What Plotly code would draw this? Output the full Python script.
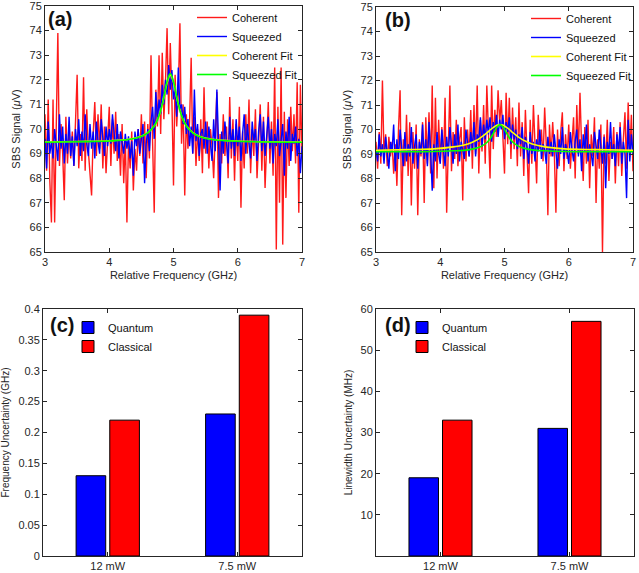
import numpy as np
import plotly.graph_objects as go

# ---------------- data ----------------
freq = np.round(3 + 0.025 * np.arange(161), 3)

coh_a = [70.6, 68.3, 71.2, 67.9, 66.2, 71.2, 66.2, 70.4, 73.9, 68.5,
         70.2, 69.0, 67.1, 70.5, 68.6, 70.0, 68.8, 69.9, 68.5, 70.3,
         72.2, 68.4, 69.8, 68.7, 72.1, 68.3, 70.8, 69.1, 68.0, 67.3,
         69.8, 71.1, 68.9, 70.6, 69.2, 71.0, 68.4, 70.1, 68.2, 69.6,
         70.9, 68.5, 70.4, 69.0, 70.7, 68.7, 69.8, 68.1, 70.2, 67.8,
         69.6, 66.2, 69.5, 68.4, 69.9, 67.5, 69.2, 68.3, 70.0, 68.9,
         70.6, 68.6, 70.3, 68.0, 70.2, 68.8, 73.0, 69.4, 66.6, 71.6,
         70.1, 73.0, 69.8, 73.1, 70.4, 71.9, 74.1, 70.6, 73.5, 71.2,
         67.7, 72.2, 70.1, 71.5, 74.3, 69.4, 71.0, 67.3, 70.6, 69.2,
         70.3, 72.9, 69.0, 70.5, 68.5, 70.0, 68.7, 70.4, 68.2, 71.7,
         69.0, 70.3, 68.4, 70.0, 69.3, 68.0, 70.2, 71.5, 67.2, 69.8,
         68.6, 70.6, 68.9, 70.1, 68.0, 71.3, 68.8, 70.4, 67.9, 70.2,
         68.7, 70.9, 66.8, 69.9, 68.4, 70.6, 69.0, 71.2, 68.2, 70.0,
         68.9, 70.8, 68.0, 69.7, 71.0, 68.3, 70.5, 67.6, 69.8, 71.1,
         68.6, 70.3, 68.1, 72.5, 65.1, 70.9, 67.0, 72.5, 65.3, 70.7,
         67.2, 70.4, 68.5, 70.9, 69.1, 70.6, 68.6, 71.9, 66.6, 71.8, 69.0]

sq_a = [69.6, 68.4, 70.3, 69.0, 69.5, 68.8, 70.0, 69.3, 68.7, 70.6,
        69.2, 70.1, 68.6, 69.8, 69.0, 70.5, 68.9, 69.7, 68.5, 70.0,
        69.3, 70.4, 68.9, 69.9, 69.1, 70.6, 69.4, 68.9, 70.2, 69.2,
        69.9, 68.8, 70.3, 69.5, 69.0, 70.4, 69.6, 68.9, 70.1, 69.3,
        70.0, 69.4, 70.6, 69.7, 69.1, 70.2, 68.8, 69.9, 69.5, 69.0,
        69.8, 69.2, 69.7, 68.8, 69.5, 68.1, 69.9, 69.3, 70.0, 69.0,
        69.6, 70.2, 67.8, 69.4, 70.0, 69.1, 70.3, 70.9, 69.6, 71.5,
        70.3, 71.2, 70.6, 71.8, 71.0, 72.0, 71.4, 72.6, 71.6, 72.4,
        71.2, 71.7, 70.5, 72.5, 70.8, 71.0, 70.2, 70.9, 69.8, 70.4,
        69.3, 70.1, 69.0, 71.6, 69.5, 70.2, 68.9, 69.8, 70.0, 69.2,
        70.3, 69.0, 70.1, 69.5, 68.7, 70.4, 69.1, 71.6, 69.3, 67.5,
        69.9, 69.0, 70.3, 69.4, 68.6, 70.5, 69.2, 70.0, 68.9, 70.4,
        69.3, 70.1, 68.7, 69.8, 70.6, 69.0, 70.2, 69.4, 68.8, 70.3,
        69.5, 70.0, 68.7, 69.9, 70.6, 69.1, 70.3, 68.9, 69.7, 70.5,
        69.2, 70.0, 68.6, 69.8, 69.3, 70.4, 68.9, 69.6, 70.2, 68.1,
        69.9, 69.2, 70.5, 68.7, 69.8, 69.4, 70.1, 68.9, 69.6, 68.2, 69.3]

coh_b = [69.5, 68.4, 69.9, 68.6, 72.0, 68.9, 69.8, 68.5, 69.7, 68.9,
         69.5, 68.2, 69.4, 67.7, 70.0, 71.6, 66.5, 69.6, 68.5, 70.6,
         68.1, 70.3, 66.9, 69.9, 68.4, 70.2, 66.5, 69.6, 68.9, 70.3,
         67.0, 70.5, 68.6, 70.7, 68.2, 71.8, 67.6, 71.3, 68.0, 70.4,
         68.7, 70.1, 68.4, 71.3, 66.6, 69.8, 71.8, 68.3, 69.9, 68.8,
         70.4, 68.5, 69.6, 70.1, 67.1, 70.5, 68.7, 70.0, 68.9, 70.8,
         68.4, 71.0, 69.0, 71.8, 68.2, 70.4, 69.1, 71.0, 68.6, 71.8,
         69.5, 68.0, 71.8, 69.2, 70.8, 69.7, 71.6, 70.3, 71.2, 69.6,
         68.2, 71.5, 69.4, 71.3, 68.8, 70.9, 69.2, 70.5, 68.5, 71.1,
         68.9, 70.3, 68.1, 70.8, 69.0, 67.4, 70.4, 68.6, 71.0, 69.3,
         67.8, 70.6, 69.2, 70.0, 68.7, 70.9, 69.4, 66.5, 70.2, 68.9,
         70.3, 69.1, 66.6, 70.0, 68.5, 69.9, 70.7, 68.3, 69.8, 68.8,
         70.2, 68.4, 69.7, 70.5, 68.0, 71.0, 69.0, 71.5, 69.3, 67.9,
         70.1, 68.6, 70.4, 67.6, 69.8, 68.9, 70.5, 67.0, 69.6, 68.4,
         70.2, 65.0, 69.8, 68.6, 70.4, 67.9, 69.5, 68.8, 70.1, 67.8,
         69.9, 68.5, 70.3, 68.1, 69.6, 70.7, 68.4, 71.1, 68.9, 70.6, 68.3]

sq_b = [69.2, 68.7, 69.8, 68.9, 69.4, 68.6, 69.7, 69.0, 68.4, 69.5,
        69.1, 70.2, 68.3, 69.6, 68.8, 70.0, 69.2, 68.5, 69.9, 68.7,
        69.4, 68.9, 70.1, 68.6, 69.3, 69.8, 68.4, 69.5, 69.0, 70.2,
        68.8, 69.6, 68.5, 70.3, 69.1, 67.5, 69.4, 68.7, 69.9, 69.0,
        68.6, 70.0, 69.2, 68.5, 69.7, 68.9, 70.1, 69.3, 68.6, 69.8,
        69.0, 70.2, 68.7, 69.5, 69.1, 68.8, 70.0, 69.4, 68.9, 69.9,
        69.2, 70.3, 68.9, 69.8, 69.5, 70.5, 69.3, 70.2, 69.6, 70.4,
        69.8, 70.5, 69.5, 70.3, 69.9, 70.6, 69.7, 70.4, 70.0, 70.6,
        69.6, 70.3, 69.9, 70.5, 69.4, 70.2, 69.6, 70.0, 69.2, 69.8,
        69.4, 70.1, 68.8, 69.7, 69.3, 68.6, 69.9, 69.0, 69.5, 68.7,
        69.6, 69.1, 70.0, 68.8, 69.4, 69.2, 68.6, 69.7, 69.0, 69.5,
        68.9, 69.8, 69.1, 68.4, 69.6, 69.0, 70.1, 68.8, 69.4, 69.1,
        68.6, 69.9, 69.2, 68.7, 69.5, 70.0, 68.9, 69.6, 68.3, 69.8,
        69.1, 70.2, 68.7, 69.4, 69.0, 68.5, 69.9, 69.2, 68.8, 70.0,
        69.3, 68.6, 69.7, 67.6, 69.5, 69.0, 70.3, 68.8, 69.4, 68.5,
        69.8, 69.1, 70.1, 68.6, 69.5, 69.0, 67.2, 70.4, 68.7, 69.8, 69.0]

fit_x_a = [3.0, 3.5, 4.0, 4.3, 4.5, 4.6, 4.7, 4.75, 4.8, 4.85, 4.9, 4.95,
           5.0, 5.05, 5.1, 5.15, 5.2, 5.3, 5.4, 5.6, 5.9, 6.5, 7.0]
coh_fit_a = [69.47, 69.49, 69.52, 69.58, 69.71, 69.85, 70.12, 70.36, 70.73, 71.27,
             71.88, 72.20, 71.90, 71.28, 70.74, 70.37, 70.13, 69.85, 69.71, 69.58,
             69.52, 69.48, 69.47]
sq_fit_a = [69.46, 69.48, 69.51, 69.57, 69.70, 69.84, 70.12, 70.37, 70.75, 71.30,
            71.93, 72.25, 71.93, 71.30, 70.75, 70.37, 70.12, 69.84, 69.70, 69.57,
            69.51, 69.47, 69.46]

fit_x_b = [3.0, 3.5, 3.9, 4.2, 4.43, 4.53, 4.63, 4.73, 4.78, 4.83, 4.88, 4.93,
           4.98, 5.03, 5.08, 5.13, 5.23, 5.33, 5.43, 5.63, 5.93, 6.43, 7.0]
coh_fit_b = [69.15, 69.18, 69.21, 69.29, 69.41, 69.52, 69.67, 69.87, 69.99, 70.09,
             70.17, 70.20, 70.17, 70.09, 69.99, 69.87, 69.67, 69.52, 69.41, 69.29,
             69.21, 69.18, 69.15]
sq_fit_b = [69.09, 69.09, 69.10, 69.13, 69.17, 69.22, 69.30, 69.48, 69.64, 69.86,
            70.09, 70.20, 70.09, 69.86, 69.64, 69.48, 69.30, 69.22, 69.17, 69.13,
            69.10, 69.09, 69.09]

freq_ticks = [3, 4, 5, 6, 7]
signal_ticks = [65, 66, 67, 68, 69, 70, 71, 72, 73, 74, 75]

powers = ["12 mW", "7.5 mW"]
freq_unc_quantum = [0.13, 0.23]
freq_unc_classical = [0.22, 0.39]
lw_unc_quantum = [19, 31]
lw_unc_classical = [33, 57]

# ---------------- figure ----------------
W, H = 639, 573
FONT = "Liberation Sans, Arial, Helvetica, sans-serif"
AX = "#262626"

def xd(a, b):
    return [a / W, b / W]

def yd(top, bot):
    return [1 - bot / H, 1 - top / H]

fig = go.Figure()

line_w = 1.4
def add_lines(xa, ya, leg, x, coh, sq, fx, cfit, sfit):
    fig.add_trace(go.Scatter(x=x, y=coh, mode="lines", name="Coherent",
                             line=dict(color="#FF1A1A", width=line_w),
                             xaxis=xa, yaxis=ya, legend=leg))
    fig.add_trace(go.Scatter(x=x, y=sq, mode="lines", name="Squeezed",
                             line=dict(color="#0000FF", width=line_w),
                             xaxis=xa, yaxis=ya, legend=leg))
    fig.add_trace(go.Scatter(x=fx, y=cfit, mode="lines", name="Coherent Fit",
                             line=dict(color="#FFFF00", width=1.6, shape="spline"),
                             xaxis=xa, yaxis=ya, legend=leg))
    fig.add_trace(go.Scatter(x=fx, y=sfit, mode="lines", name="Squeezed Fit",
                             line=dict(color="#00FF00", width=1.6, shape="spline"),
                             xaxis=xa, yaxis=ya, legend=leg))

add_lines("x", "y", "legend", freq, coh_a, sq_a, fit_x_a, coh_fit_a, sq_fit_a)
add_lines("x2", "y2", "legend2", freq, coh_b, sq_b, fit_x_b, coh_fit_b, sq_fit_b)

def add_bars(xa, ya, leg, q, c):
    fig.add_trace(go.Bar(x=powers, y=q, name="Quantum",
                         marker=dict(color="#0000FF", line=dict(color="black", width=1)),
                         xaxis=xa, yaxis=ya, legend=leg))
    fig.add_trace(go.Bar(x=powers, y=c, name="Classical",
                         marker=dict(color="#FF0000", line=dict(color="black", width=1)),
                         xaxis=xa, yaxis=ya, legend=leg))

add_bars("x3", "y3", "legend3", freq_unc_quantum, freq_unc_classical)
add_bars("x4", "y4", "legend4", lw_unc_quantum, lw_unc_classical)

axis_common = dict(showline=True, linecolor=AX, linewidth=1, mirror="ticks",
                   ticks="inside", ticklen=4, tickcolor=AX, showgrid=False,
                   zeroline=False, ticklabeloverflow="allow",
                   tickfont=dict(family=FONT, size=11, color=AX))
title_font = dict(family=FONT, size=11, color=AX)

sig_title = "SBS Signal (<i>μ</i>V)"
freq_title = "Relative Frequency (GHz)"
BOT = 556

fig.update_layout(
    width=W, height=H, margin=dict(l=0, r=0, t=0, b=0, autoexpand=False),
    paper_bgcolor="white", plot_bgcolor="white",
    font=dict(family=FONT, color=AX),
    barmode="group", bargap=0.48, bargroupgap=0.12,
    xaxis=dict(domain=xd(45, 302), range=[3, 7], tickvals=freq_ticks, anchor="y",
               title=dict(text=freq_title, font=title_font, standoff=4), **axis_common),
    yaxis=dict(domain=yd(6, 252), range=[65, 75], tickvals=signal_ticks, anchor="x",
               title=dict(text=sig_title, font=title_font, standoff=6), **axis_common),
    xaxis2=dict(domain=xd(376, 633), range=[3, 7], tickvals=freq_ticks, anchor="y2",
                title=dict(text=freq_title, font=title_font, standoff=4), **axis_common),
    yaxis2=dict(domain=yd(7, 252), range=[65, 75], tickvals=signal_ticks, anchor="x2",
                title=dict(text=sig_title, font=title_font, standoff=6), **axis_common),
    xaxis3=dict(domain=xd(43, 302), anchor="y3", **axis_common),
    yaxis3=dict(domain=yd(309, BOT), range=[0, 0.4], dtick=0.05, anchor="x3",
                title=dict(text="Frequency Uncertainty (GHz)",
                           font=dict(family=FONT, size=10, color=AX), standoff=6),
                **axis_common),
    xaxis4=dict(domain=xd(376, 634), anchor="y4", **axis_common),
    yaxis4=dict(domain=yd(309, BOT), range=[0, 60], tickvals=[10, 20, 30, 40, 50, 60],
                anchor="x4",
                title=dict(text="Linewidth Uncertainty (MHz)",
                           font=dict(family=FONT, size=10, color=AX), standoff=6),
                **axis_common),
)

leg_common = dict(bgcolor="rgba(0,0,0,0)", borderwidth=0, tracegroupgap=0,
                  font=dict(family=FONT, size=11, color="#111111"),
                  xanchor="left", yanchor="top", itemclick=False)
fig.update_layout(
    legend=dict(x=192 / W, y=1 - 3 / H, **leg_common),
    legend2=dict(x=526 / W, y=1 - 4 / H, **leg_common),
    legend3=dict(x=68 / W, y=1 - 313 / H, **leg_common),
    legend4=dict(x=402 / W, y=1 - 313 / H, **leg_common),
)

for lab, xp, yp in [("(a)", 46, 6), ("(b)", 383, 7), ("(c)", 48, 312), ("(d)", 383, 312)]:
    fig.add_annotation(text=f"<b>{lab}</b>", x=xp / W, y=1 - yp / H, xref="paper", yref="paper",
                       xanchor="left", yanchor="top", showarrow=False,
                       font=dict(family=FONT, size=20, color="#111111"))

fig.write_html("out.html",
               config={"displayModeBar": False},
               post_script="document.body.style.margin='0';document.body.style.padding='0';")
